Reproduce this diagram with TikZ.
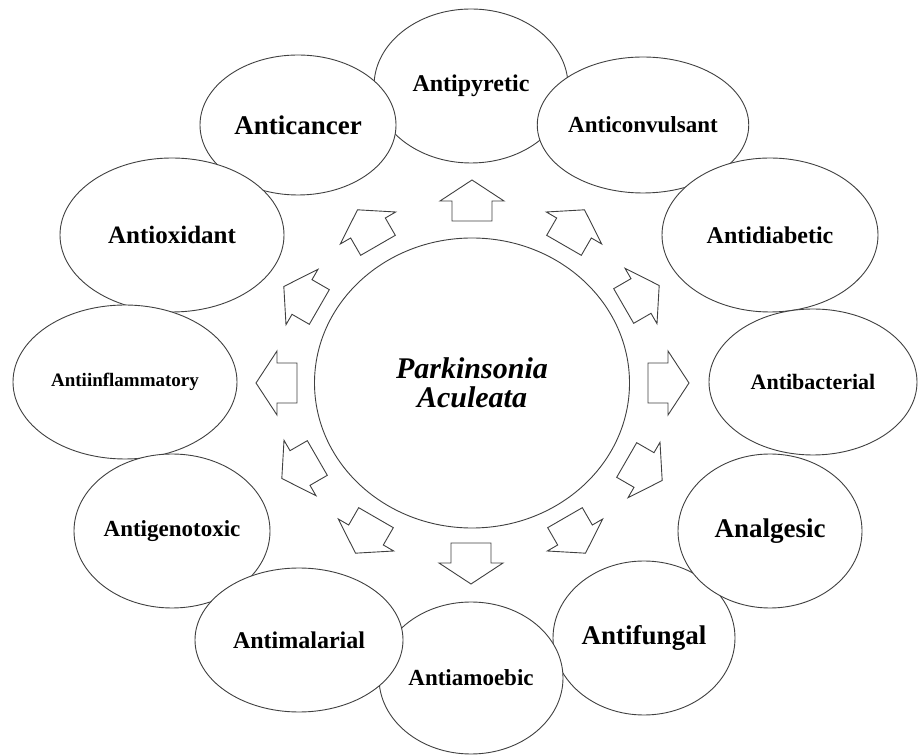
\documentclass[tikz,border=0pt]{standalone}
\usepackage{fontspec}
\setmainfont{Liberation Serif}
\usepackage{tikz}
\usetikzlibrary{shapes.geometric}
\newcommand{\fsz}[1]{\fontsize{#1}{#1}\selectfont}
\tikzset{blockarrow/.pic={\draw[outline] (-20,-20) -- (0,-20) -- (0,-32) -- (21,0) -- (0,32) -- (0,20) -- (-20,20) -- cycle;}}
\begin{document}
\begin{tikzpicture}[x=1pt, y=1pt,
outline/.style={draw=black!75, line width=0.9pt, fill=white},
effect/.style={ellipse, outline, inner sep=0pt, font=\bfseries},
plant/.style={ellipse, outline, inner sep=0pt, align=center, font=\bfseries\itshape\fsz{30}, minimum width=315pt, minimum height=290pt}]
\useasboundingbox (0,0) rectangle (918,755);
% effects round the plant
\node[effect, minimum width=194pt, minimum height=154pt, font=\bfseries\fsz{24}] (pyretic) at (471,669) {Antipyretic};
\node[effect, minimum width=182pt, minimum height=154pt, font=\bfseries\fsz{27}] (fungal) at (644,117) {Antifungal};
\node[effect, minimum width=184pt, minimum height=152pt, font=\bfseries\fsz{23}] (amoebic) at (471,77) {Antiamoebic};
\node[effect, minimum width=210pt, minimum height=136pt, font=\bfseries\fsz{23}] (convulsant) at (643,630) {Anticonvulsant};
\node[effect, minimum width=196pt, minimum height=140pt, font=\bfseries\fsz{27}] (cancer) at (298,630) {Anticancer};
\node[effect, minimum width=216pt, minimum height=154pt, font=\bfseries\fsz{24}] (diabetic) at (770,520) {Antidiabetic};
\node[effect, minimum width=224pt, minimum height=154pt, font=\bfseries\fsz{25}] (oxidant) at (172,520) {Antioxidant};
\node[effect, minimum width=208pt, minimum height=146pt, font=\bfseries\fsz{22}] (bacterial) at (813,373) {Antibacterial};
\node[effect, minimum width=224pt, minimum height=154pt, font=\bfseries\fsz{19}] (inflammatory) at (125,373) {Antiinflammatory};
\node[effect, minimum width=184pt, minimum height=154pt, font=\bfseries\fsz{27}] (analgesic) at (770,224) {Analgesic};
\node[effect, minimum width=196pt, minimum height=154pt, font=\bfseries\fsz{23}] (genotoxic) at (172,224) {Antigenotoxic};
\node[effect, minimum width=208pt, minimum height=144pt, font=\bfseries\fsz{24}] (malarial) at (299,115) {Antimalarial};
% centre
\node[plant] (parkinsonia) at (472,372) {Parkinsonia\\[-1pt]Aculeata};
% arrows pointing out
\pic[rotate=0] (arr0) at (668,372) {blockarrow};
\pic[rotate=30] (arr30) at (641,459) {blockarrow};
\pic[rotate=60] (arr60) at (574,527) {blockarrow};
\pic[rotate=90] (arr90) at (472,554) {blockarrow};
\pic[rotate=120] (arr120) at (368,527) {blockarrow};
\pic[rotate=150] (arr150) at (302,458) {blockarrow};
\pic[rotate=180] (arr180) at (277,372) {blockarrow};
\pic[rotate=210] (arr210) at (300,287) {blockarrow};
\pic[rotate=240] (arr240) at (366,220) {blockarrow};
\pic[rotate=270] (arr270) at (471,192) {blockarrow};
\pic[rotate=300] (arr300) at (575,220) {blockarrow};
\pic[rotate=330] (arr330) at (644,285) {blockarrow};
\end{tikzpicture}
\end{document}
